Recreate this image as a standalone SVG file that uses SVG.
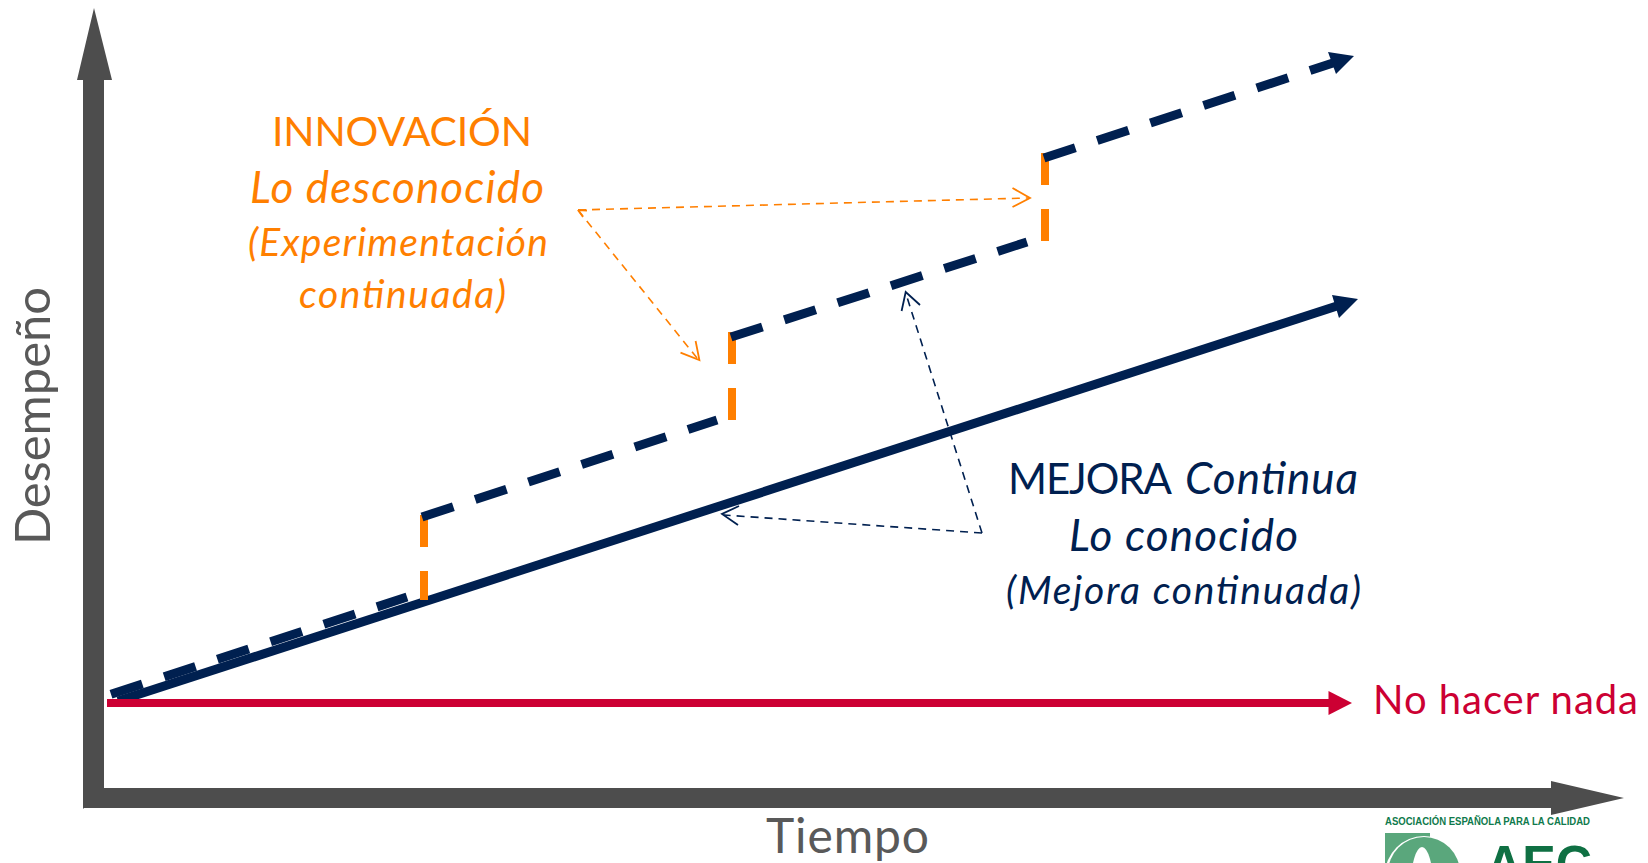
<svg xmlns="http://www.w3.org/2000/svg" width="1648" height="863" viewBox="0 0 1648 863">
<style>
text{font-family:Lato,"Liberation Sans",sans-serif}
.o{fill:#ff7f00}.n{fill:#002050}.g{fill:#595959}.i{font-style:italic}
.dash{fill:none;stroke:#002050;stroke-width:9;stroke-dasharray:33 23}
.or{fill:none;stroke:#ff7f00;stroke-width:8;stroke-dasharray:32 24}
.to{fill:none;stroke:#ff7f00;stroke-width:1.6;stroke-dasharray:8 6}
.tn{fill:none;stroke:#002050;stroke-width:1.6;stroke-dasharray:8 6}
.ho{fill:none;stroke:#ff7f00;stroke-width:1.8}
.hn{fill:none;stroke:#002050;stroke-width:1.8}
</style>
<rect width="1648" height="863" fill="#fff"/>
<g id="logo">
<text x="1385" y="825" font-size="11.4" font-weight="700" fill="#0f7a4c" style="font-family:'Liberation Sans',sans-serif" textLength="205" lengthAdjust="spacingAndGlyphs">ASOCIACIÓN ESPAÑOLA PARA LA CALIDAD</text>
<rect x="1385" y="833" width="45" height="30" fill="#5aa77c"/>
<circle cx="1424" cy="875" r="39" fill="#fff"/>
<circle cx="1424" cy="873" r="36" fill="#5aa77c"/>
<ellipse cx="1422" cy="885" rx="11" ry="38" fill="#fff"/>
<text x="1486" y="882" font-size="52" font-weight="700" fill="#0f7043" style="font-family:'Liberation Sans',sans-serif" textLength="106" lengthAdjust="spacingAndGlyphs">AEC</text>
</g>
<g id="axes">
<path id="axis-y" fill="#4d4d4d" d="M83 809V80H77L94 8L112 80H104V788Z"/>
<path id="axis-x" fill="#4d4d4d" d="M83 788H1551V781L1624 798L1551 815V808H83Z"/>
</g>
<g id="connectors">
<path id="line-mejora" d="M118 701L1340 305" stroke="#002050" stroke-width="9" fill="none"/>
<path d="M1332 295L1358 299L1339 318Z" fill="#002050"/>
<path id="line-none" d="M107 703H1332" stroke="#cc0033" stroke-width="8" fill="none"/>
<path d="M1328.5 691L1352 703L1328.5 715Z" fill="#cc0033"/>
<path class="or" d="M424 515V600"/>
<path class="or" d="M732 332V420"/>
<path class="or" d="M1045 153V241"/>
<path class="dash" d="M111 694.3L407 597"/>
<path class="dash" d="M422 517L717 420"/>
<path class="dash" d="M731 337L1027 242"/>
<path class="dash" d="M1044 158L1336 62"/>
<path d="M1328 52L1354 56L1336 74Z" fill="#002050"/>
<path class="to" d="M578 210L1028 198"/>
<path class="ho" d="M1012.5 188L1030 198L1012.5 207"/>
<path class="to" d="M578 210L697 358"/>
<path class="ho" d="M695.6 341L699.4 360L680.5 352.7"/>
<path class="ho" d="M578 210L587 210.5M578 210L583 217"/>
<path class="tn" d="M982 533L724 515"/>
<path class="hn" d="M739 506L722 514L738 525"/>
<path class="tn" d="M982 533L906 294"/>
<path class="hn" d="M901.6 311L905.7 292L920 305"/>
</g>
<g id="label-innovacion">
<text class="o" x="272" y="146" font-size="41" textLength="260">INNOVACIÓN</text>
<text class="o i" x="250" y="203" font-size="44" textLength="294">Lo desconocido</text>
<text class="o i" x="248" y="256" font-size="39" textLength="300">(Experimentación</text>
<text class="o i" x="299" y="308" font-size="39" textLength="207">continuada)</text>
</g>
<g id="label-mejora">
<text class="n" x="1008" y="494" font-size="42" textLength="164">MEJORA</text>
<text class="n i" x="1185" y="494" font-size="44" textLength="173">Continua</text>
<text class="n i" x="1069" y="551" font-size="44" textLength="229">Lo conocido</text>
<text class="n i" x="1006" y="604" font-size="39" textLength="355">(Mejora continuada)</text>
</g>
<text id="label-nada" x="1373" y="714" font-size="40" fill="#cc0033" textLength="265">No hacer nada</text>
<text id="label-tiempo" class="g" x="766" y="853" font-size="48" textLength="163">Tiempo</text>
<text id="label-desempeno" class="g" transform="translate(50 545) rotate(-90)" font-size="49" textLength="258">Desempeño</text>
</svg>
